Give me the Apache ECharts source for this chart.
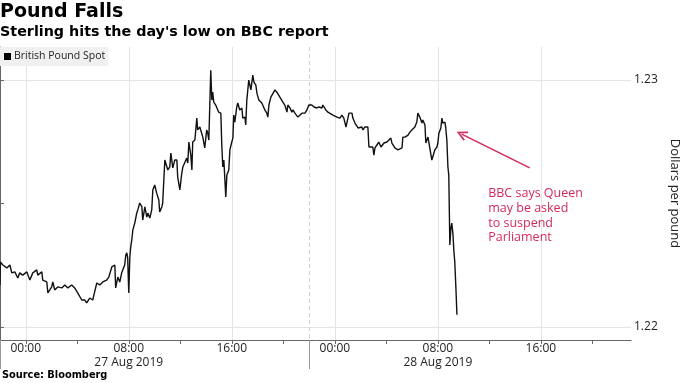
<!DOCTYPE html>
<html>
<head>
<meta charset="utf-8">
<script src="https://cdn.jsdelivr.net/npm/echarts@6/dist/echarts.min.js"></script>
<style>
  html, body { margin: 0; padding: 0; background: #ffffff; }
  #chart { width: 680px; height: 383px; }
</style>
</head>
<body>
<div id="chart"></div>
<script>
// ---- Data ----
// Session starts 26 Aug 2019 22:00 (London); times are minutes from that start.
const sessionStartClock = 22 * 60;          // 22:00
const axisSpanMinutes = 49 * 60;            // 26 Aug 22:00 -> 28 Aug 23:00
const seriesName = 'British Pound Spot';

const minutesFromStart = [
  0, 2, 13, 32, 46, 55, 69, 83, 92, 106, 125, 139, 153, 171, 176, 195, 199, 218, 223, 241,
  246, 255, 269, 288, 302, 316, 334, 348, 362, 381, 395, 404, 418, 432, 441, 451, 465, 479, 497, 507,
  521, 535, 539, 549, 558, 567, 581, 586, 591, 595, 600, 605, 609, 614, 619, 628, 637, 642, 651, 661,
  665, 675, 684, 689, 698, 707, 712, 721, 730, 740, 744, 754, 758, 768, 777, 782, 791, 796, 805, 814,
  824, 828, 838, 847, 852, 861, 870, 875, 880, 889, 894, 898, 908, 917, 921, 931, 940, 945, 949, 954,
  963, 968, 973, 982, 987, 991, 996, 1005, 1010, 1019, 1029, 1033, 1038, 1043, 1047, 1052, 1057, 1066, 1071, 1080,
  1085, 1089, 1094, 1103, 1108, 1117, 1127, 1131, 1141, 1145, 1150, 1159, 1169, 1173, 1178, 1183, 1192, 1197, 1206, 1215,
  1220, 1225, 1234, 1243, 1248, 1253, 1262, 1271, 1281, 1290, 1295, 1304, 1313, 1318, 1327, 1337, 1341, 1351, 1360, 1365,
  1374, 1383, 1388, 1397, 1407, 1411, 1421, 1430, 1439, 1453, 1463, 1476, 1486, 1500, 1504, 1518, 1528, 1537, 1551, 1560,
  1570, 1574, 1584, 1593, 1602, 1612, 1621, 1626, 1640, 1644, 1654, 1663, 1668, 1677, 1686, 1691, 1700, 1709, 1714, 1719,
  1728, 1737, 1742, 1747, 1756, 1765, 1775, 1784, 1789, 1798, 1803, 1812, 1821, 1826, 1835, 1840, 1849, 1854, 1863, 1873,
  1877, 1887, 1896, 1901, 1910, 1919, 1924, 1933, 1942, 1947, 1956, 1966, 1970, 1980, 1984, 1994, 1998, 2003, 2012, 2017,
  2026, 2036, 2040, 2045, 2054, 2059, 2063, 2073, 2077, 2082, 2087, 2091, 2096, 2101, 2105, 2110, 2115, 2119, 2124, 2129
];

const gbpUsd = [
  1.22170, 1.22263, 1.22251, 1.22239, 1.22251, 1.22219, 1.22223, 1.22198, 1.22219, 1.22210, 1.22223, 1.22190, 1.22219, 1.22231, 1.22210, 1.22223, 1.22190, 1.22182, 1.22138, 1.22162,
  1.22182, 1.22150, 1.22162, 1.22158, 1.22170, 1.22158, 1.22170, 1.22158, 1.22138, 1.22109, 1.22109, 1.22097, 1.22117, 1.22109, 1.22142, 1.22178, 1.22170, 1.22182, 1.22190, 1.22202,
  1.22243, 1.22251, 1.22158, 1.22202, 1.22182, 1.22219, 1.22251, 1.22291, 1.22300, 1.22279, 1.22138, 1.22283, 1.22324, 1.22352, 1.22393, 1.22421, 1.22461, 1.22474, 1.22502, 1.22486,
  1.22433, 1.22486, 1.22445, 1.22461, 1.22441, 1.22474, 1.22555, 1.22575, 1.22542, 1.22514, 1.22466, 1.22486, 1.22502, 1.22676, 1.22668, 1.22636, 1.22648, 1.22704, 1.22644, 1.22676,
  1.22676, 1.22607, 1.22555, 1.22623, 1.22648, 1.22656, 1.22684, 1.22664, 1.22749, 1.22696, 1.22636, 1.22749, 1.22757, 1.22846, 1.22798, 1.22810, 1.22818, 1.22769, 1.22777, 1.22725,
  1.22798, 1.22785, 1.22757, 1.23040, 1.22919, 1.22951, 1.22911, 1.22899, 1.22907, 1.22870, 1.22866, 1.22745, 1.22648, 1.22676, 1.22684, 1.22526, 1.22615, 1.22636, 1.22717, 1.22749,
  1.22765, 1.22858, 1.22830, 1.22891, 1.22907, 1.22879, 1.22887, 1.22846, 1.22850, 1.22818, 1.22919, 1.23000, 1.22960, 1.22988, 1.23020, 1.22992, 1.22980, 1.22947, 1.22919, 1.22927,
  1.22907, 1.22911, 1.22879, 1.22866, 1.22850, 1.22899, 1.22931, 1.22939, 1.22960, 1.22951, 1.22951, 1.22931, 1.22931, 1.22911, 1.22899, 1.22870, 1.22899, 1.22887, 1.22870, 1.22879,
  1.22866, 1.22858, 1.22850, 1.22846, 1.22866, 1.22870, 1.22866, 1.22879, 1.22899, 1.22899, 1.22891, 1.22887, 1.22891, 1.22887, 1.22899, 1.22879, 1.22870, 1.22866, 1.22858, 1.22858,
  1.22850, 1.22858, 1.22846, 1.22858, 1.22846, 1.22810, 1.22846, 1.22866, 1.22866, 1.22846, 1.22826, 1.22830, 1.22806, 1.22798, 1.22810, 1.22798, 1.22810, 1.22810, 1.22810, 1.22729,
  1.22725, 1.22729, 1.22696, 1.22725, 1.22737, 1.22749, 1.22729, 1.22737, 1.22745, 1.22737, 1.22749, 1.22757, 1.22765, 1.22745, 1.22737, 1.22725, 1.22729, 1.22717, 1.22725, 1.22725,
  1.22769, 1.22769, 1.22777, 1.22777, 1.22789, 1.22798, 1.22806, 1.22810, 1.22830, 1.22866, 1.22850, 1.22826, 1.22838, 1.22818, 1.22745, 1.22769, 1.22749, 1.22757, 1.22676, 1.22676,
  1.22717, 1.22729, 1.22745, 1.22785, 1.22806, 1.22846, 1.22826, 1.22830, 1.22806, 1.22757, 1.22648, 1.22615, 1.22332, 1.22401, 1.22421, 1.22381, 1.22304, 1.22263, 1.22162, 1.22049
];

// Axis ticks and labels
const labelTickMinutes = [120, 600, 1080, 1560, 2040, 2520];
const tickLabels = ['00:00', '08:00', '16:00', '00:00', '08:00', '16:00'];
const dateLabels = ['', '27 Aug 2019', '', '', '28 Aug 2019', ''];
const minorTickMinutes = [120, 360, 600, 840, 1080, 1320, 1560, 1800, 2040, 2280, 2520, 2760];
const sessionBreakMinutes = [0, 1440];
const yMin = 1.21947, yMax = 1.23134;
const yTickValues = [1.22, 1.225, 1.23];
const yLabelValues = [1.22, 1.23];

// Annotation (data coordinates)
const annotationLines = ['BBC says Queen', 'may be asked', 'to suspend', 'Parliament'];
const annotationAt = [2277, 1.22567];
const arrowFrom = [2468, 1.22644];
const arrowTo = [2151, 1.22781];

const accent = '#d42a5b';
const regularFont = "'Open Sans', 'Noto Sans', sans-serif";
const boldFont = "'DejaVu Sans', Verdana, sans-serif";

const chart = echarts.init(document.getElementById('chart'), null, { renderer: 'canvas' });

const lineData = minutesFromStart.map((m, i) => [m, gbpUsd[i]]);

const commonX = { type: 'value', min: 0, max: axisSpanMinutes, gridIndex: 0, position: 'bottom' };
const commonY = { type: 'value', min: yMin, max: yMax, gridIndex: 0, position: 'right', scale: true };

chart.setOption({
  animation: false,
  backgroundColor: '#ffffff',
  title: [
    { text: 'Pound Falls', left: 0, top: 3, padding: 0,
      textStyle: { fontFamily: boldFont, fontWeight: 'bold', fontSize: 19, color: '#000' } },
    { text: "Sterling hits the day's low on BBC report", left: 0, top: 25, padding: 0,
      textStyle: { fontFamily: boldFont, fontWeight: 'bold', fontSize: 14.3, color: '#000' } },
    { text: 'Source: Bloomberg', left: 2, top: 370, padding: 0,
      textStyle: { fontFamily: boldFont, fontWeight: 'bold', fontSize: 9.8, color: '#000' } }
  ],
  legend: {
    left: 0, top: 47,
    padding: [4, 3, 4, 4],
    backgroundColor: '#f0f0f0',
    itemWidth: 7, itemHeight: 7, icon: 'rect',
    data: [{ name: seriesName, itemStyle: { color: '#000' } }],
    textStyle: { fontFamily: regularFont, fontSize: 10.5, color: '#222', padding: [0, 0, 0, -2] },
    selectedMode: false
  },
  grid: { left: 0, right: 49, top: 47, bottom: 43, containLabel: false, outerBoundsMode: 'none' },
  xAxis: [
    Object.assign({}, commonX, {
      axisLine: { show: true, lineStyle: { color: '#666', width: 1 } },
      axisTick: { show: true, customValues: minorTickMinutes, length: 4, lineStyle: { color: '#666' } },
      axisLabel: {
        show: true, customValues: labelTickMinutes, margin: 2,
        fontFamily: regularFont, fontSize: 12, color: '#222', lineHeight: 14,
        formatter: function (v) {
          const i = labelTickMinutes.indexOf(v);
          if (i < 0) return '';
          return dateLabels[i] ? tickLabels[i] + '\n' + dateLabels[i] : tickLabels[i];
        }
      },
      splitLine: { show: false }
    }),
    Object.assign({}, commonX, {
      axisLine: { show: false },
      axisTick: { show: false, customValues: labelTickMinutes },
      axisLabel: { show: false },
      splitLine: { show: true, lineStyle: { color: '#e4e4e4', width: 1 } }
    }),
    Object.assign({}, commonX, {
      axisLine: { show: false },
      axisTick: { show: true, customValues: sessionBreakMinutes, length: 29, lineStyle: { color: '#999', width: 1 } },
      axisLabel: { show: false },
      splitLine: { show: true, lineStyle: { color: '#cfcfcf', width: 1, type: [4, 3] } }
    })
  ],
  yAxis: [
    Object.assign({}, commonY, {
      name: 'Dollars per pound',
      nameLocation: 'middle', nameRotate: -90, nameGap: 30,
      nameTextStyle: { fontFamily: regularFont, fontSize: 13, color: '#222' },
      axisLine: { show: true, lineStyle: { color: '#666', width: 1 } },
      axisTick: { show: true, customValues: yTickValues, length: 4, inside: false, lineStyle: { color: '#666' } },
      axisLabel: {
        show: true, customValues: yLabelValues, margin: 3,
        fontFamily: regularFont, fontSize: 12, color: '#222',
        formatter: v => v.toFixed(2)
      },
      splitLine: { show: false }
    }),
    Object.assign({}, commonY, {
      axisLine: { show: false },
      axisTick: { show: false, customValues: yLabelValues },
      axisLabel: { show: false },
      splitLine: { show: true, lineStyle: { color: '#e4e4e4', width: 1 } }
    })
  ],
  series: [
    {
      name: seriesName,
      type: 'line',
      xAxisIndex: 0, yAxisIndex: 0,
      data: lineData,
      showSymbol: false,
      symbol: 'none',
      lineStyle: { color: '#111', width: 1.4 },
      itemStyle: { color: '#000' },
      z: 5,
      markLine: {
        silent: true,
        animation: false,
        label: { show: false },
        lineStyle: { color: accent, width: 1.5, type: 'solid' },
        data: [[
          { coord: arrowFrom, symbol: 'none' },
          { coord: arrowTo, symbol: 'path://M5,0 L10,9 L8.6,10 L5,3.2 L1.4,10 L0,9 Z', symbolSize: [10, 11] }
        ]]
      },
      markPoint: {
        silent: true,
        animation: false,
        symbol: 'rect',
        symbolSize: 1,
        itemStyle: { color: 'rgba(0,0,0,0)' },
        label: {
          show: true, position: [0, 0], align: 'left', verticalAlign: 'top',
          fontFamily: regularFont, fontSize: 12.5, lineHeight: 14.7, color: accent,
          formatter: annotationLines.join('\n')
        },
        data: [{ coord: annotationAt }]
      }
    }
  ]
});
</script>
</body>
</html>
